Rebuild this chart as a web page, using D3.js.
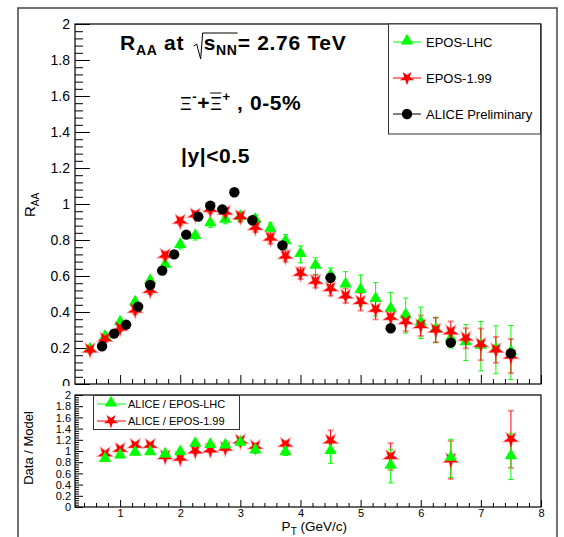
<!DOCTYPE html>
<html>
<head>
<meta charset="utf-8">
<script src="https://cdn.jsdelivr.net/npm/d3@7"></script>
<style>
  body { margin: 0; background: #fff; }
  svg text { font-family: "Liberation Sans", Arial, Helvetica, sans-serif; }
</style>
</head>
<body>
<svg id="chart" width="564" height="537"></svg>
<script>
// ---- data ----
const alicePt  = [0.7, 0.9, 1.1, 1.3, 1.5, 1.7, 1.9, 2.1, 2.3, 2.5, 2.7, 2.9, 3.2, 3.7, 4.5, 5.5, 6.5, 7.5];
const aliceRaa = [0.21, 0.28, 0.33, 0.43, 0.55, 0.63, 0.72, 0.83, 0.93, 0.99, 0.97, 1.065, 0.91, 0.77, 0.59, 0.31, 0.23, 0.17];

const modelPt = [0.5, 0.75, 1.0, 1.25, 1.5, 1.75, 2.0, 2.25, 2.5, 2.75, 3.0, 3.25, 3.5, 3.75, 4.0,
                 4.25, 4.5, 4.75, 5.0, 5.25, 5.5, 5.75, 6.0, 6.25, 6.5, 6.75, 7.0, 7.25, 7.5];
const eposLhc    = [0.19, 0.26, 0.34, 0.45, 0.57, 0.66, 0.77, 0.82, 0.89, 0.91, 0.925, 0.91, 0.86, 0.79, 0.72,
                    0.655, 0.6, 0.55, 0.52, 0.47, 0.415, 0.38, 0.34, 0.30, 0.25, 0.23, 0.21, 0.19, 0.175];
const eposLhcErr = [0.01, 0.01, 0.01, 0.015, 0.015, 0.015, 0.02, 0.02, 0.02, 0.02, 0.025, 0.03, 0.035, 0.04, 0.047,
                    0.046, 0.045, 0.074, 0.086, 0.093, 0.094, 0.097, 0.087, 0.07, 0.05, 0.1, 0.137, 0.133, 0.15];
const epos199    = [0.19, 0.25, 0.31, 0.41, 0.52, 0.715, 0.905, 0.94, 0.97, 0.955, 0.93, 0.87, 0.81, 0.71, 0.615,
                    0.57, 0.53, 0.49, 0.457, 0.415, 0.37, 0.346, 0.324, 0.30, 0.29, 0.254, 0.22, 0.19, 0.155];
const epos199Err = [0.015, 0.015, 0.015, 0.02, 0.02, 0.02, 0.02, 0.02, 0.02, 0.02, 0.025, 0.025, 0.03, 0.03, 0.032,
                    0.035, 0.039, 0.04, 0.049, 0.056, 0.046, 0.053, 0.057, 0.068, 0.058, 0.056, 0.088, 0.072, 0.095];

const ratioPt     = [0.75, 1.0, 1.25, 1.5, 1.75, 2.0, 2.25, 2.5, 2.75, 3.0, 3.25, 3.75, 4.5, 5.5, 6.5, 7.5];
const ratioLhc    = [0.85, 0.91, 0.96, 0.97, 0.93, 0.97, 1.12, 1.1, 1.09, 1.14, 1.0, 0.97, 0.99, 0.73, 0.87, 0.9];
const ratioLhcErr = [0.03, 0.03, 0.03, 0.03, 0.03, 0.03, 0.04, 0.04, 0.04, 0.05, 0.04, 0.05, 0.21, 0.3, 0.34, 0.41];
const ratio199    = [0.95, 1.03, 1.1, 1.1, 0.9, 0.87, 1.0, 1.02, 1.05, 1.18, 1.08, 1.12, 1.18, 0.9, 0.84, 1.21];
const ratio199Err = [0.03, 0.03, 0.03, 0.03, 0.03, 0.03, 0.04, 0.04, 0.04, 0.05, 0.04, 0.05, 0.19, 0.24, 0.34, 0.51];

const xMajor = [1, 2, 3, 4, 5, 6, 7, 8];
const yMajor = [0, 0.2, 0.4, 0.6, 0.8, 1, 1.2, 1.4, 1.6, 1.8, 2];

const GREEN = "#00ff00", RED = "#ff0000";

const svg = d3.select("#chart");

// outer canvas frame
svg.append("path")
  .attr("d", "M18,537V8H557V537")
  .attr("fill", "none").attr("stroke", "#444").attr("stroke-width", 1.5);

// ---- scales ----
const x = d3.scaleLinear().domain([0.25, 8]).range([75, 541]);
const yTop = d3.scaleLinear().domain([0, 2]).range([384, 24]);
const yBot = d3.scaleLinear().domain([0, 2]).range([507, 395]);

const xMinor = d3.range(0.4, 8.0001, 0.2).map(v => +v.toFixed(2)).filter(v => Math.abs(v - Math.round(v)) > 1e-6);
const yMinor = d3.range(0.04, 2.0001, 0.04).map(v => +v.toFixed(2)).filter(v => Math.abs(v * 5 - Math.round(v * 5)) > 1e-6);

function tickStyle(g) {
  g.select(".domain").remove();
  g.selectAll(".tick line").attr("stroke", "#000").attr("stroke-width", 1);
  g.selectAll(".tick text").attr("fill", "#000");
}

// ==================================================
// upper pad
// ==================================================
const padTop = svg.append("g");

padTop.append("g").attr("transform", "translate(0,384)")
  .call(d3.axisBottom(x).tickValues(xMinor).tickSize(-5).tickFormat(""))
  .call(tickStyle);
padTop.append("g").attr("transform", "translate(0,384)")
  .call(d3.axisBottom(x).tickValues(xMajor).tickSize(-9).tickFormat(""))
  .call(tickStyle);
padTop.append("g").attr("transform", "translate(75,0)")
  .call(d3.axisLeft(yTop).tickValues(yMinor).tickSize(-8).tickFormat(""))
  .call(tickStyle);
padTop.append("g").attr("transform", "translate(75,0)")
  .call(d3.axisLeft(yTop).tickValues(yMajor).tickSize(-15).tickPadding(5).tickFormat(d3.format("")))
  .call(tickStyle)
  .call(g => g.selectAll(".tick text").attr("font-size", 14));

padTop.append("rect")
  .attr("x", 75).attr("y", 24).attr("width", 466).attr("height", 360)
  .attr("fill", "none").attr("stroke", "#000").attr("stroke-width", 1.2);

// y title
padTop.append("text")
  .attr("transform", "translate(35,205) rotate(-90)")
  .attr("text-anchor", "middle").attr("font-size", 15)
  .call(t => {
    t.append("tspan").text("R");
    t.append("tspan").text("AA").attr("font-size", 10).attr("dy", 4);
  });

// error bars
function errorBars(g, xs, ys, es, ySc, color, capW, capCol, capOp, capSw) {
  const d = xs.map((v, i) => ({ x: v, y: ys[i], e: es[i] }));
  const eb = g.append("g");
  eb.selectAll("line.bar").data(d).join("line")
    .attr("class", "bar")
    .attr("x1", p => x(p.x)).attr("x2", p => x(p.x))
    .attr("y1", p => ySc(p.y - p.e)).attr("y2", p => ySc(p.y + p.e))
    .attr("stroke", color).attr("stroke-width", 1);
  ["lo", "hi"].forEach(k => {
    eb.selectAll("line.cap" + k).data(d).join("line")
      .attr("class", "cap" + k)
      .attr("x1", p => x(p.x) - capW / 2).attr("x2", p => x(p.x) + capW / 2)
      .attr("y1", p => ySc(k === "lo" ? p.y - p.e : p.y + p.e))
      .attr("y2", p => ySc(k === "lo" ? p.y - p.e : p.y + p.e))
      .attr("stroke", capCol).attr("stroke-opacity", capOp).attr("stroke-width", capSw);
  });
}

const triangle = d3.symbol().type(d3.symbolTriangle).size(66);
const star = d3.symbol().type(d3.symbolStar).size(64);

function markers(g, xs, ys, ySc, kind) {
  const d = xs.map((v, i) => ({ x: v, y: ys[i] }));
  const m = g.append("g");
  if (kind === "tri") {
    m.selectAll("path").data(d).join("path")
      .attr("d", triangle)
      .attr("transform", p => `translate(${x(p.x)},${ySc(p.y) - 1})`)
      .attr("fill", GREEN);
  } else if (kind === "star") {
    m.selectAll("path").data(d).join("path")
      .attr("d", star)
      .attr("transform", p => `translate(${x(p.x)},${ySc(p.y)}) rotate(180)`)
      .attr("fill", RED).attr("stroke", RED).attr("stroke-opacity", 0.35).attr("stroke-width", 1.5);
  } else {
    m.selectAll("circle").data(d).join("circle")
      .attr("cx", p => x(p.x)).attr("cy", p => ySc(p.y)).attr("r", 5.2)
      .attr("fill", "#000");
  }
}

errorBars(padTop, modelPt, eposLhc, eposLhcErr, yTop, GREEN, 5, GREEN, 1, 1);
errorBars(padTop, modelPt, epos199, epos199Err, yTop, RED, 6, RED, 0.45, 2);
markers(padTop, modelPt, eposLhc, yTop, "tri");
markers(padTop, modelPt, epos199, yTop, "star");
markers(padTop, alicePt, aliceRaa, yTop, "dot");

// ---- titles inside the pad ----
const title = padTop.append("text")
  .attr("x", 120).attr("y", 50)
  .attr("font-size", 21).attr("font-weight", "bold").attr("letter-spacing", 0.7);
title.append("tspan").text("R");
title.append("tspan").text("AA").attr("font-size", 14).attr("dy", 5);
title.append("tspan").text(" at ").attr("dy", -5);
title.append("tspan").text("s").attr("dx", 13);
title.append("tspan").text("NN").attr("font-size", 14).attr("dy", 5);
title.append("tspan").text("= 2.76 TeV").attr("dy", -5);
{
  const node = title.node();
  const sBox = node.getExtentOfChar(7);
  const nBox = node.getExtentOfChar(9);
  const sx = sBox.x, ex = nBox.x + nBox.width, ty = 33;
  padTop.append("path")
    .attr("d", `M${sx - 10},${46} L${sx - 7},${44} L${sx - 3},${59} L${sx - 1},${ty} L${ex},${ty}`)
    .attr("fill", "none").attr("stroke", "#000").attr("stroke-width", 1);
}

const xi = padTop.append("text")
  .attr("x", 180).attr("y", 110)
  .attr("font-size", 21).attr("font-weight", "bold").attr("letter-spacing", 0.6);
xi.append("tspan").text("Ξ").attr("font-weight", "normal").attr("font-size", 18);
xi.append("tspan").text("-").attr("font-size", 13).attr("dy", -9);
xi.append("tspan").text("+").attr("dy", 9);
xi.append("tspan").text("Ξ").attr("font-weight", "normal").attr("font-size", 18);
xi.append("tspan").text("+").attr("font-size", 13).attr("dy", -9);
xi.append("tspan").text(" , 0-5%").attr("dy", 9);
{
  const b = xi.node().getExtentOfChar(3);
  padTop.append("line")
    .attr("x1", b.x).attr("x2", b.x + b.width - 1)
    .attr("y1", 93).attr("y2", 93)
    .attr("stroke", "#000").attr("stroke-width", 1);
}

padTop.append("text")
  .attr("x", 181).attr("y", 163)
  .attr("font-size", 21).attr("font-weight", "bold").attr("letter-spacing", 0.6)
  .text("|y|<0.5");

// ---- upper legend ----
const legTop = [
  { label: "EPOS-LHC", color: GREEN, kind: "tri" },
  { label: "EPOS-1.99", color: RED, kind: "star" },
  { label: "ALICE Preliminary", color: "#000", kind: "dot" }
];
const lg = padTop.append("g");
lg.append("rect")
  .attr("x", 388.5).attr("y", 24).attr("width", 152).attr("height", 110)
  .attr("fill", "#fff").attr("stroke", "#333").attr("stroke-width", 1);
legTop.forEach((e, i) => {
  const cy = 42 + i * 36;
  lg.append("line").attr("x1", 393).attr("x2", 421).attr("y1", cy).attr("y2", cy)
    .attr("stroke", e.color).attr("stroke-width", 1);
  if (e.kind === "tri") lg.append("path").attr("d", triangle).attr("transform", `translate(407,${cy - 1})`).attr("fill", e.color);
  else if (e.kind === "star") lg.append("path").attr("d", star).attr("transform", `translate(407,${cy}) rotate(180)`).attr("fill", e.color);
  else lg.append("circle").attr("cx", 407).attr("cy", cy).attr("r", 5.2).attr("fill", e.color);
  lg.append("text").attr("x", 426).attr("y", cy + 5).attr("font-size", 13).text(e.label);
});

// ==================================================
// lower pad (covers the bottom of the upper one)
// ==================================================
const padBot = svg.append("g");
padBot.append("rect").attr("x", 19).attr("y", 386).attr("width", 537).attr("height", 151).attr("fill", "#fff");

padBot.append("g").attr("transform", "translate(0,507)")
  .call(d3.axisBottom(x).tickValues(xMinor).tickSize(-4).tickFormat(""))
  .call(tickStyle);
padBot.append("g").attr("transform", "translate(0,507)")
  .call(d3.axisBottom(x).tickValues(xMajor).tickSize(-7).tickPadding(2).tickFormat(d3.format("d")))
  .call(tickStyle)
  .call(g => g.selectAll(".tick text").attr("font-size", 11).attr("dy", "0.71em"));
padBot.append("g").attr("transform", "translate(75,0)")
  .call(d3.axisLeft(yBot).tickValues(yMinor).tickSize(-4).tickFormat(""))
  .call(tickStyle);
padBot.append("g").attr("transform", "translate(75,0)")
  .call(d3.axisLeft(yBot).tickValues(yMajor).tickSize(-8).tickPadding(4).tickFormat(d3.format("")))
  .call(tickStyle)
  .call(g => g.selectAll(".tick text").attr("font-size", 11).attr("dy", "0.34em"));

padBot.append("rect")
  .attr("x", 75).attr("y", 395).attr("width", 466).attr("height", 112)
  .attr("fill", "none").attr("stroke", "#000").attr("stroke-width", 1.2);

padBot.append("text")
  .attr("transform", "translate(33,448) rotate(-90)")
  .attr("text-anchor", "middle").attr("font-size", 13)
  .text("Data / Model");

const xt = padBot.append("text").attr("x", 347).attr("y", 531)
  .attr("text-anchor", "end").attr("font-size", 13.5);
xt.append("tspan").text("P");
xt.append("tspan").text("T").attr("font-size", 10).attr("dy", 4);
xt.append("tspan").text(" (GeV/c)").attr("dy", -4);

errorBars(padBot, ratioPt, ratio199, ratio199Err, yBot, RED, 6, RED, 0.45, 2);
errorBars(padBot, ratioPt, ratioLhc, ratioLhcErr, yBot, GREEN, 5, GREEN, 1, 1);
markers(padBot, ratioPt, ratio199, yBot, "star");
markers(padBot, ratioPt, ratioLhc, yBot, "tri");

// ---- lower legend ----
const legBot = [
  { label: "ALICE / EPOS-LHC", color: GREEN, kind: "tri" },
  { label: "ALICE / EPOS-1.99", color: RED, kind: "star" }
];
const lb = padBot.append("g");
lb.append("rect")
  .attr("x", 93.5).attr("y", 395.5).attr("width", 146).attr("height", 34)
  .attr("fill", "#fff").attr("stroke", "#333").attr("stroke-width", 1);
legBot.forEach((e, i) => {
  const cy = 404 + i * 17;
  lb.append("line").attr("x1", 97).attr("x2", 126).attr("y1", cy).attr("y2", cy)
    .attr("stroke", e.color).attr("stroke-width", 1);
  if (e.kind === "tri") lb.append("path").attr("d", triangle).attr("transform", `translate(111,${cy - 1})`).attr("fill", e.color);
  else lb.append("path").attr("d", star).attr("transform", `translate(111,${cy}) rotate(180)`).attr("fill", e.color);
  lb.append("text").attr("x", 128).attr("y", cy + 4).attr("font-size", 11).text(e.label);
});
</script>
</body>
</html>
